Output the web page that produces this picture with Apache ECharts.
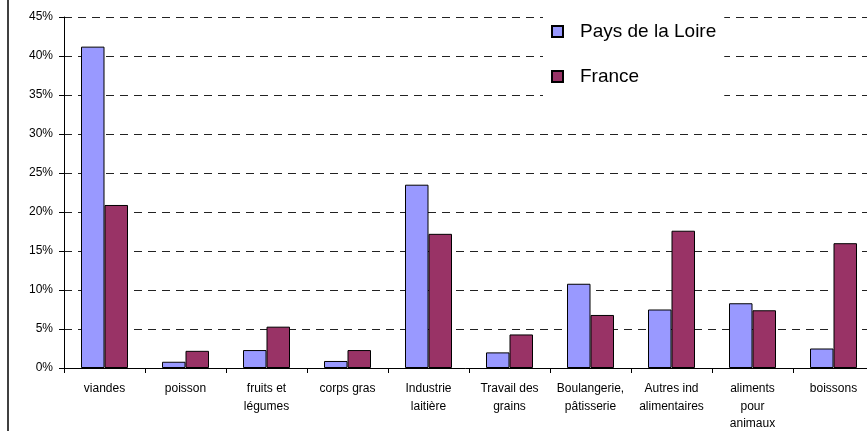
<!DOCTYPE html>
<html>
<head>
<meta charset="utf-8">
<script src="https://cdn.jsdelivr.net/npm/echarts@6/dist/echarts.min.js"></script>
<style>
html,body{margin:0;padding:0;background:#fff;}
#c{width:867px;height:431px;}
</style>
</head>
<body>
<div id="c"></div>
<script>
const categories = ['viandes', 'poisson', 'fruits et\nlégumes', 'corps gras', 'Industrie\nlaitière', 'Travail des\ngrains', 'Boulangerie,\npâtisserie', 'Autres ind\nalimentaires', 'aliments\npour\nanimaux', 'boissons'];
const paysDeLaLoire = [41.2, 0.8, 2.3, 0.9, 23.5, 2.0, 10.8, 7.5, 8.3, 2.5];
const france = [20.9, 2.2, 5.3, 2.3, 17.2, 4.3, 6.8, 17.6, 7.4, 16.0];
const seriesNames = ['Pays de la Loire', 'France'];
const yTicks = {min: 0, max: 45, interval: 5};

const chart = echarts.init(document.getElementById('c'));
const font = 'Liberation Sans, Arial, sans-serif';
chart.setOption({
  animation: false,
  backgroundColor: '#fff',
  textStyle: {fontFamily: font},
  grid: {left: 64, top: 17, height: 351, width: 810, containLabel: false, outerBoundsMode: 'none'},
  legend: {
    orient: 'vertical',
    left: 543,
    top: 8,
    padding: [14, 8, 18, 8],
    itemGap: 26,
    itemWidth: 11,
    itemHeight: 11,
    backgroundColor: '#fff',
    icon: 'rect',
    textStyle: {fontSize: 19, color: '#000', fontFamily: font, padding: [0, 0, 0, 12]},
    data: seriesNames
  },
  xAxis: {
    type: 'category',
    data: categories,
    axisLine: {lineStyle: {color: '#000', width: 1}},
    axisTick: {show: true, length: 5, lineStyle: {color: '#000'}},
    axisLabel: {color: '#000', fontSize: 12, margin: 12, lineHeight: 17.5, interval: 0, fontFamily: font},
    splitLine: {show: false}
  },
  yAxis: {
    type: 'value',
    min: yTicks.min,
    max: yTicks.max,
    interval: yTicks.interval,
    axisLine: {show: true, lineStyle: {color: '#000', width: 1}},
    axisTick: {show: true, length: 5, lineStyle: {color: '#000'}},
    axisLabel: {color: '#000', fontSize: 12, margin: 11, formatter: '{value}%', fontFamily: font},
    splitLine: {show: true, lineStyle: {color: '#222', width: 1, type: [8, 6]}}
  },
  series: [
    {
      name: seriesNames[0], type: 'bar', data: paysDeLaLoire,
      barWidth: 23.5, barGap: '0%',
      itemStyle: {color: '#9999FF', borderColor: '#000', borderWidth: 1}
    },
    {
      name: seriesNames[1], type: 'bar', data: france,
      barWidth: 23.5, barGap: '0%',
      itemStyle: {color: '#993366', borderColor: '#000', borderWidth: 1}
    }
  ],
  graphic: [
    {type: 'line', shape: {x1: 8, y1: 0, x2: 8, y2: 431}, style: {stroke: '#000', lineWidth: 1.5}, z: 100}
  ]
});
</script>
</body>
</html>
